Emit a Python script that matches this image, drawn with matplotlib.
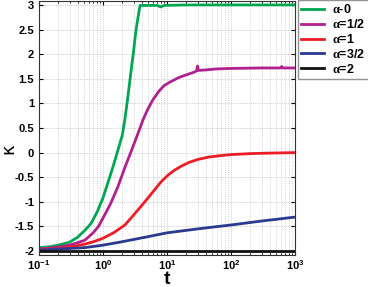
import matplotlib.pyplot as plt
import numpy as np

plt.rcParams['font.family'] = ['Liberation Sans', 'DejaVu Sans']
plt.rcParams['font.weight'] = 'bold'
plt.rcParams['mathtext.fontset'] = 'custom'
plt.rcParams['mathtext.rm'] = 'Liberation Serif'
plt.rcParams['mathtext.bf'] = 'Liberation Sans:bold'

# Curves (t on log axis)
t_a0 = [0.1, 0.15, 0.2, 0.3, 0.4, 0.52, 0.65, 0.8, 1.0, 1.2, 1.4, 1.6, 1.8, 2.0, 2.2,
        2.4, 2.6, 2.8, 3.0, 3.2, 3.4, 3.6, 3.8, 5, 7, 8, 9, 20, 100, 1000]
k_a0 = [-1.93, -1.91, -1.88, -1.82, -1.72, -1.58, -1.44, -1.22, -0.92, -0.6, -0.33,
        -0.08, 0.15, 0.35, 0.68, 1.05, 1.41, 1.75, 2.05, 2.38, 2.62, 2.82, 2.99, 2.99,
        2.99, 2.96, 2.99, 3.0, 3.0, 3.0]

t_a12 = [0.1, 0.2, 0.3, 0.4, 0.52, 0.7, 0.85, 1.0, 1.3, 1.7, 2.2, 2.8, 3.5, 4.2, 5, 6,
         7.5, 9, 11, 15, 20, 26, 29, 30, 31, 40, 60, 100, 300, 600, 620, 640, 1000]
k_a12 = [-1.96, -1.92, -1.88, -1.83, -1.78, -1.63, -1.5, -1.33, -1.05, -0.7, -0.3,
         0.05, 0.38, 0.66, 0.88, 1.07, 1.25, 1.36, 1.43, 1.52, 1.58, 1.63, 1.66, 1.76,
         1.67, 1.68, 1.7, 1.71, 1.72, 1.72, 1.75, 1.72, 1.72]

t_a1 = [0.1, 0.2, 0.3, 0.52, 0.75, 1.0, 1.5, 2.2, 3, 4.5, 6, 8, 10.3, 13, 17, 22, 30,
        45, 70, 100, 200, 400, 1000]
k_a1 = [-1.97, -1.95, -1.92, -1.86, -1.8, -1.74, -1.62, -1.47, -1.27, -1.0, -0.8, -0.6,
        -0.46, -0.36, -0.27, -0.2, -0.14, -0.09, -0.06, -0.04, -0.02, -0.01, 0.0]

t_a32 = [0.1, 0.2, 0.52, 1, 2, 4.5, 10, 30, 100, 300, 1000]
k_a32 = [-1.98, -1.96, -1.93, -1.88, -1.81, -1.72, -1.63, -1.55, -1.47, -1.39, -1.31]

t_a2 = [0.1, 1000]
k_a2 = [-2.0, -2.0]

labels = [r'$\mathrm{\alpha}$-0', r'$\mathrm{\alpha}$=1/2', r'$\mathrm{\alpha}$=1',
          r'$\mathrm{\alpha}$=3/2', r'$\mathrm{\alpha}$=2']
colors = ['#00a650', '#b0208f', '#ee1c25', '#2b3990', '#111111']
series = [(t_a0, k_a0), (t_a12, k_a12), (t_a1, k_a1), (t_a32, k_a32), (t_a2, k_a2)]

fig = plt.figure(figsize=(3.68, 2.87), dpi=100)
ax = fig.add_axes([39 / 368, 32 / 287, 256 / 368, 254 / 287])

for (t, k), c, lab in zip(series, colors, labels):
    ax.semilogx(t, k, color=c, lw=2, label=lab, solid_joinstyle='round')

ax.set_xlim(0.1, 1000)
ax.set_ylim(-2.08, 3.08)
ax.set_yticks(np.arange(-2, 3.01, 0.5))
ax.set_yticklabels(['-2', '-1.5', '-1', '-0.5', '0', '0.5', '1', '1.5', '2', '2.5', '3'])
ax.set_xticks([0.1, 1, 10, 100, 1000])
ax.set_xticklabels([r'$\mathbf{10^{-1}}$', r'$\mathbf{10^{0}}$', r'$\mathbf{10^{1}}$',
                    r'$\mathbf{10^{2}}$', r'$\mathbf{10^{3}}$'])
ax.tick_params(which='both', direction='in', top=True, right=True, labelsize=8)
ax.tick_params(which='major', length=3)
ax.tick_params(which='minor', length=1.5)
ax.tick_params(axis='x', pad=2)
ax.grid(True, which='major', ls=':', color='#aaaaaa', lw=0.5)
ax.grid(True, which='minor', axis='x', ls=':', color='#bbbbbb', lw=0.5)
for s in ax.spines.values():
    s.set_color('#333333')
    s.set_linewidth(0.8)

ax.set_xlabel('t', fontsize=14, fontweight='bold')
ax.xaxis.set_label_coords(0.5, -0.064)
ax.set_ylabel('κ', fontsize=13, family=['DejaVu Sans'])
ax.yaxis.set_label_coords(-0.085, 0.42)

fig.legend(loc='upper left', bbox_to_anchor=(298 / 368, 1.0), fancybox=False,
           edgecolor='#777777', fontsize=9, handlelength=1.8, borderpad=0.25,
           labelspacing=0.15, handletextpad=0.7, borderaxespad=0)

fig.savefig('out.png', dpi=100)
